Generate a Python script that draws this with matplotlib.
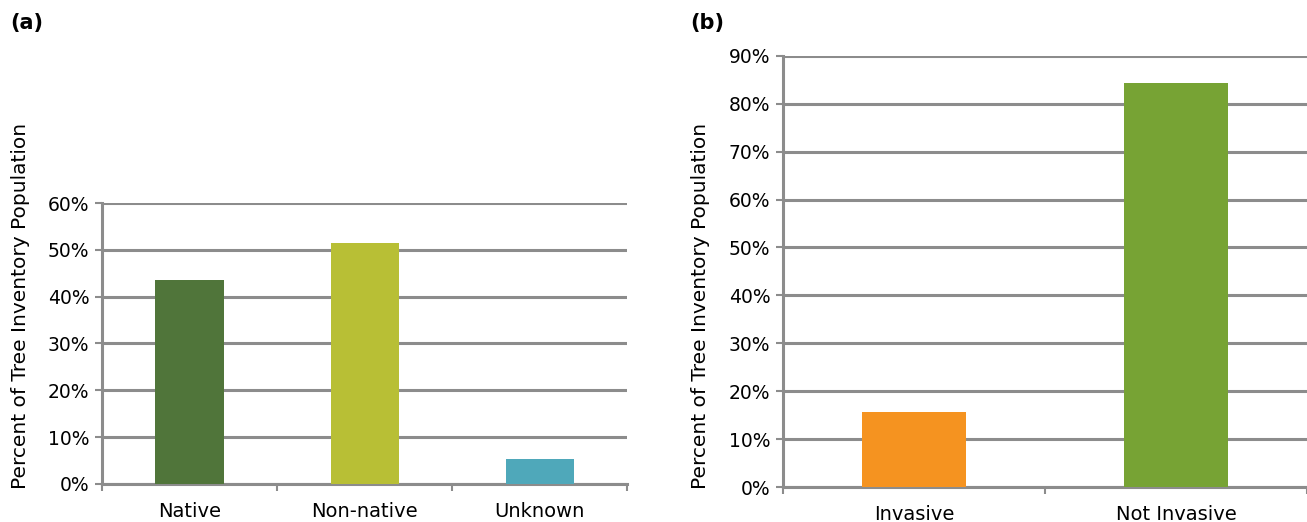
import numpy as np
import matplotlib.pyplot as plt
from matplotlib.ticker import FixedLocator

plt.rcParams['font.family'] = ['DejaVu Sans']

# panel (a): native status
origin_labels = ["Native", "Non-native", "Unknown"]
origin_values = [43.6, 51.5, 5.3]
origin_colors = ["#50753A", "#B8BF35", "#4FA8BA"]

# panel (b): invasive status
invasive_labels = ["Invasive", "Not Invasive"]
invasive_values = [15.7, 84.3]
invasive_colors = ["#F59320", "#77A334"]

ylabel = "Percent of Tree Inventory Population"
grid_col = "#8C8C8C"

fig = plt.figure(figsize=(13.07, 5.22), dpi=100)
ax_a = fig.add_axes([0.078, 0.073, 0.402, 0.538])
ax_b = fig.add_axes([0.599, 0.067, 0.401, 0.826])


def style_panel(ax, labels, values, colors, ymax, barw):
    n = len(labels)
    x = np.arange(n)
    ax.bar(x, values, width=barw, color=colors, zorder=3)
    ax.set_xlim(-0.5, n - 0.5)
    ax.set_ylim(0, ymax)
    ax.set_yticks(np.arange(0, ymax + 1, 10))
    ax.set_yticklabels([f"{v}%" for v in range(0, ymax + 1, 10)], fontsize=13.5)
    ax.yaxis.grid(True, color=grid_col, linewidth=2.2, zorder=0)
    # category boundaries as ticks, labels at centres
    ax.xaxis.set_major_locator(FixedLocator(np.arange(-0.5, n, 1.0)))
    ax.set_xticklabels([])
    ax.xaxis.set_minor_locator(FixedLocator(x))
    ax.set_xticklabels(labels, minor=True, fontsize=14)
    ax.tick_params(axis="x", which="minor", length=0, pad=13)
    ax.tick_params(axis="x", which="major", length=5, width=1.5, color=grid_col)
    ax.tick_params(axis="y", length=5, width=1.5, color=grid_col, pad=4)
    for s in ["top", "right"]:
        ax.spines[s].set_visible(False)
    for s in ["left", "bottom"]:
        ax.spines[s].set_color(grid_col)
        ax.spines[s].set_linewidth(2.2)
    ax.set_ylabel(ylabel, fontsize=14.5)


style_panel(ax_a, origin_labels, origin_values, origin_colors, 60, 0.39)
style_panel(ax_b, invasive_labels, invasive_values, invasive_colors, 90, 0.40)
ax_a.yaxis.set_label_coords(-0.137, 0.633)
ax_b.yaxis.set_label_coords(-0.139, 0.42)

fig.text(0.008, 0.955, "(a)", fontsize=15, fontweight="bold", va="center")
fig.text(0.528, 0.955, "(b)", fontsize=15, fontweight="bold", va="center")

fig.savefig("out.png", dpi=100)
